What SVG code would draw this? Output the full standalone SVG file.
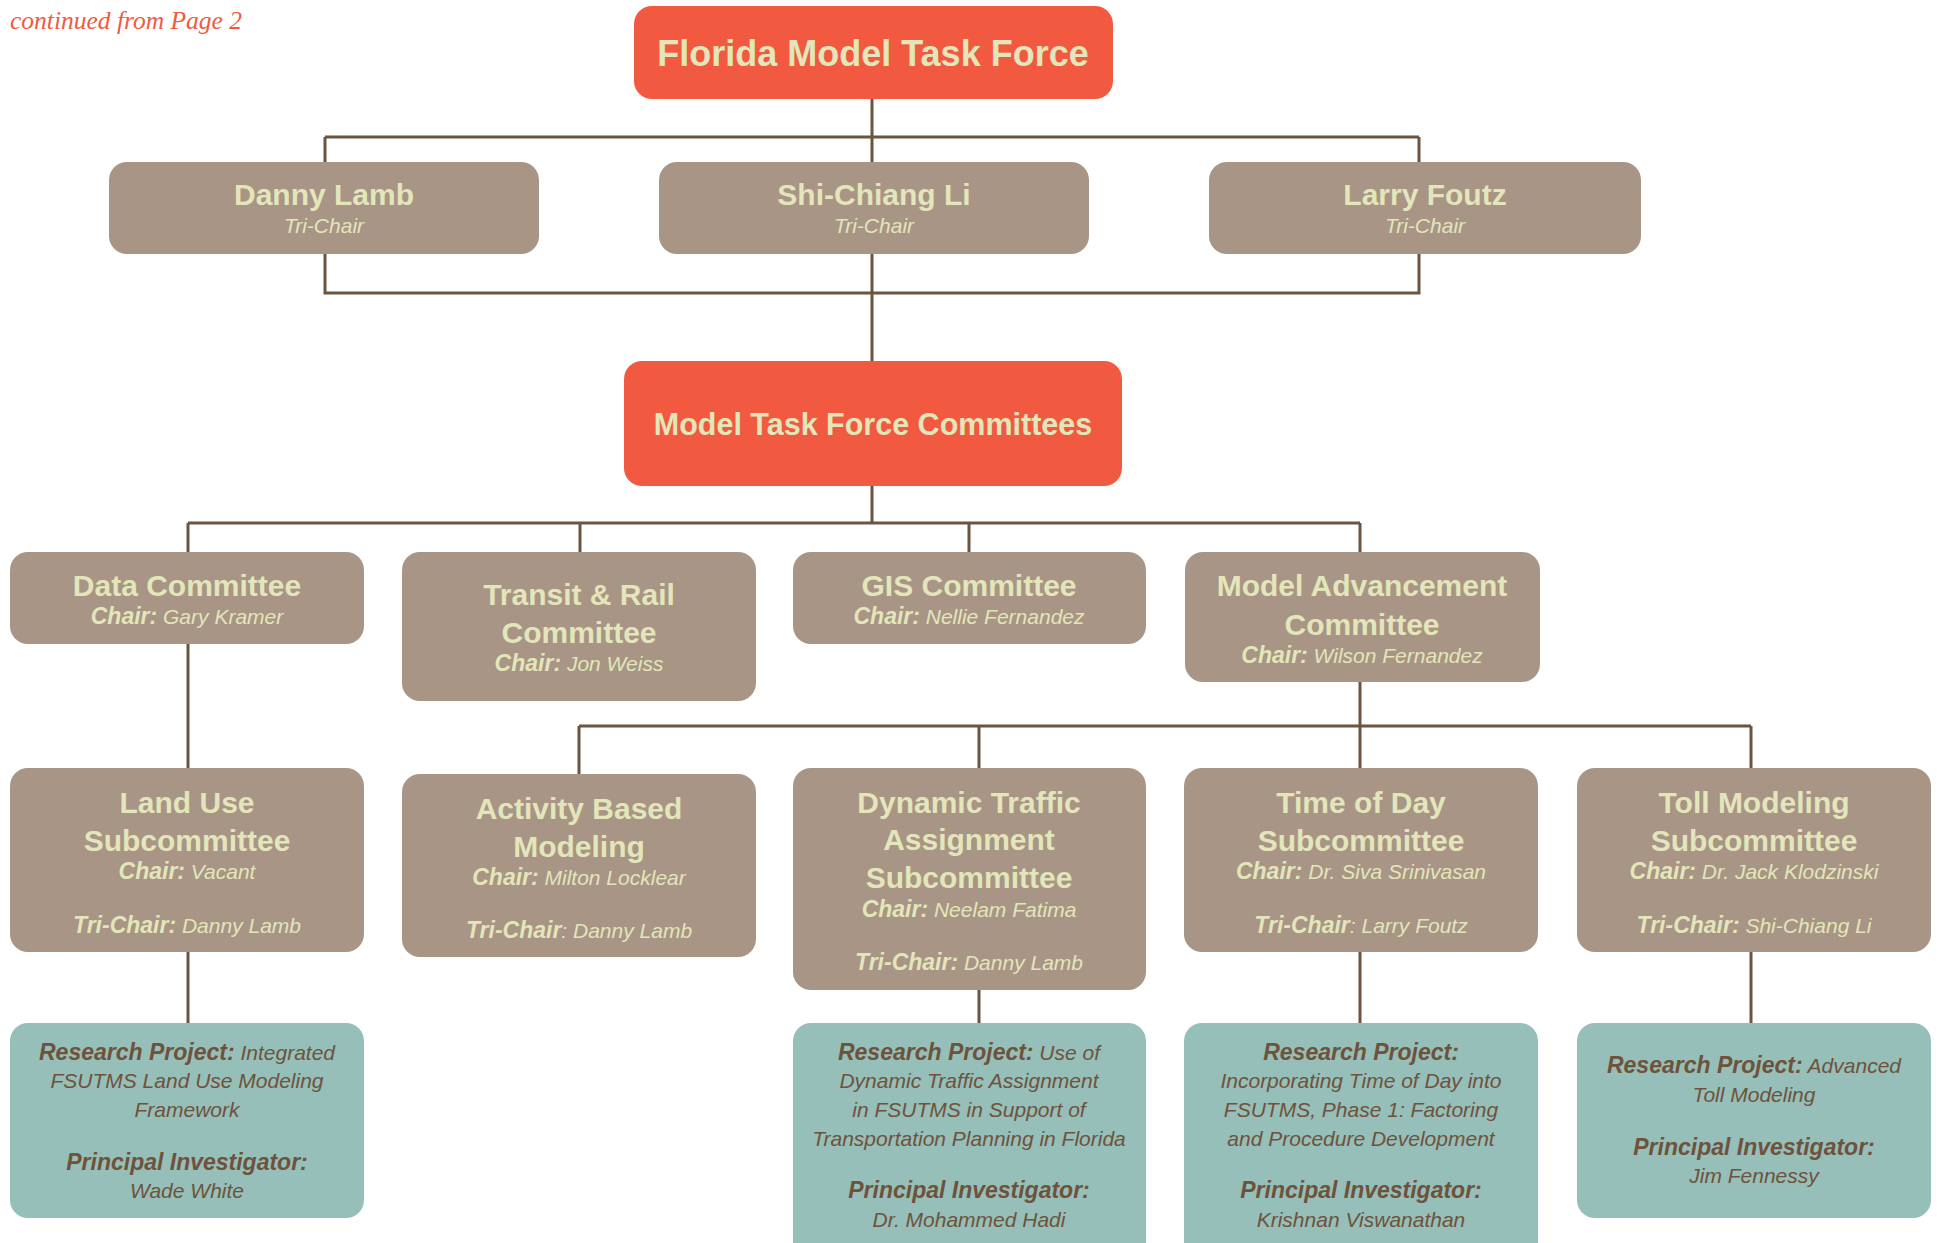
<svg xmlns="http://www.w3.org/2000/svg" width="1939" height="1243" viewBox="0 0 1939 1243">
<style>
.t{font-family:"Liberation Sans",Arial,sans-serif;text-anchor:middle}
.h{font-weight:bold;font-size:30px;fill:#E2E6BA}
.s{font-style:italic;font-size:21px;fill:#E2E6BA}
.r{font-style:italic;font-size:21px;fill:#6F523C}
.b{font-weight:bold;font-size:23px}
.red{fill:#F15A40}
.tan{fill:#A89585}
.teal{fill:#95BFB8}
.ln{stroke:#6B5541;stroke-width:3;fill:none}
</style>
<rect width="1939" height="1243" fill="#ffffff"/>
<text x="10" y="29" style="font-family:'Liberation Serif','Times New Roman',serif;font-style:italic;font-size:25.5px;fill:#F15A40">continued from Page 2</text>
<g id="connectors" class="ln">
<path d="M872 99V361"/>
<path d="M325 137H1419M325 137V162M1419 137V162"/>
<path d="M325 254V293H1419V254"/>
<path d="M872 486V523M188 523H1360M188 523V552M580 523V552M969 523V552M1360 523V552"/>
<path d="M188 644V768M1360 682V768"/>
<path d="M579 726H1751M579 726V774M979 726V768M1751 726V768"/>
<path d="M188 952V1023M979 990V1023M1360 952V1023M1751 952V1023"/>
</g>
<g id="fmtf"><rect class="red" x="634" y="6" width="479" height="93" rx="18"/><text class="t h" x="873" y="66" style="font-size:36px">Florida Model Task Force</text></g>
<g id="danny"><rect class="tan" x="109" y="162" width="430" height="92" rx="18"/><text class="t h" x="324" y="205">Danny Lamb</text><text class="t s" x="324" y="233">Tri-Chair</text></g>
<g id="shi"><rect class="tan" x="659" y="162" width="430" height="92" rx="18"/><text class="t h" x="874" y="205">Shi-Chiang Li</text><text class="t s" x="874" y="233">Tri-Chair</text></g>
<g id="larry"><rect class="tan" x="1209" y="162" width="432" height="92" rx="18"/><text class="t h" x="1425" y="205">Larry Foutz</text><text class="t s" x="1425" y="233">Tri-Chair</text></g>
<g id="mtfc"><rect class="red" x="624" y="361" width="498" height="125" rx="18"/><text class="t h" x="873" y="435" style="font-size:30.5px">Model Task Force Committees</text></g>
<g id="data"><rect class="tan" x="10" y="552" width="354" height="92" rx="18"/><text class="t h" x="187" y="596">Data Committee</text><text class="t s" x="187" y="624"><tspan class="b">Chair:</tspan> Gary Kramer</text></g>
<g id="transit"><rect class="tan" x="402" y="552" width="354" height="149" rx="18"/><text class="t h" x="579" y="605">Transit &amp; Rail</text><text class="t h" x="579" y="643">Committee</text><text class="t s" x="579" y="671"><tspan class="b">Chair:</tspan> Jon Weiss</text></g>
<g id="gis"><rect class="tan" x="793" y="552" width="353" height="92" rx="18"/><text class="t h" x="969" y="596">GIS Committee</text><text class="t s" x="969" y="624"><tspan class="b">Chair:</tspan> Nellie Fernandez</text></g>
<g id="mac"><rect class="tan" x="1185" y="552" width="355" height="130" rx="18"/><text class="t h" x="1362" y="596">Model Advancement</text><text class="t h" x="1362" y="635">Committee</text><text class="t s" x="1362" y="663"><tspan class="b">Chair:</tspan> Wilson Fernandez</text></g>
<g id="landuse"><rect class="tan" x="10" y="768" width="354" height="184" rx="18"/><text class="t h" x="187" y="813">Land Use</text><text class="t h" x="187" y="851">Subcommittee</text><text class="t s" x="187" y="879"><tspan class="b">Chair:</tspan> Vacant</text><text class="t s" x="187" y="933"><tspan class="b">Tri-Chair:</tspan> Danny Lamb</text></g>
<g id="abm"><rect class="tan" x="402" y="774" width="354" height="183" rx="18"/><text class="t h" x="579" y="819">Activity Based</text><text class="t h" x="579" y="857">Modeling</text><text class="t s" x="579" y="885"><tspan class="b">Chair:</tspan> Milton Locklear</text><text class="t s" x="579" y="938"><tspan class="b">Tri-Chair</tspan>: Danny Lamb</text></g>
<g id="dta"><rect class="tan" x="793" y="768" width="353" height="222" rx="18"/><text class="t h" x="969" y="813">Dynamic Traffic</text><text class="t h" x="969" y="850">Assignment</text><text class="t h" x="969" y="888">Subcommittee</text><text class="t s" x="969" y="917"><tspan class="b">Chair:</tspan> Neelam Fatima</text><text class="t s" x="969" y="970"><tspan class="b">Tri-Chair:</tspan> Danny Lamb</text></g>
<g id="tod"><rect class="tan" x="1184" y="768" width="354" height="184" rx="18"/><text class="t h" x="1361" y="813">Time of Day</text><text class="t h" x="1361" y="851">Subcommittee</text><text class="t s" x="1361" y="879"><tspan class="b">Chair:</tspan> Dr. Siva Srinivasan</text><text class="t s" x="1361" y="933"><tspan class="b">Tri-Chair</tspan>: Larry Foutz</text></g>
<g id="toll"><rect class="tan" x="1577" y="768" width="354" height="184" rx="18"/><text class="t h" x="1754" y="813">Toll Modeling</text><text class="t h" x="1754" y="851">Subcommittee</text><text class="t s" x="1754" y="879"><tspan class="b">Chair:</tspan> Dr. Jack Klodzinski</text><text class="t s" x="1754" y="933"><tspan class="b">Tri-Chair:</tspan> Shi-Chiang Li</text></g>
<g id="rp-landuse"><rect class="teal" x="10" y="1023" width="354" height="195" rx="18"/><text class="t r" x="187" y="1060"><tspan class="b">Research Project:</tspan> Integrated</text><text class="t r" x="187" y="1088">FSUTMS Land Use Modeling</text><text class="t r" x="187" y="1117">Framework</text><text class="t r b" x="187" y="1170">Principal Investigator:</text><text class="t r" x="187" y="1198">Wade White</text></g>
<g id="rp-dta"><rect class="teal" x="793" y="1023" width="353" height="250" rx="18"/><text class="t r" x="969" y="1060"><tspan class="b">Research Project:</tspan> Use of</text><text class="t r" x="969" y="1088">Dynamic Traffic Assignment</text><text class="t r" x="969" y="1117">in FSUTMS in Support of</text><text class="t r" x="969" y="1146">Transportation Planning in Florida</text><text class="t r b" x="969" y="1198">Principal Investigator:</text><text class="t r" x="969" y="1227">Dr. Mohammed Hadi</text></g>
<g id="rp-tod"><rect class="teal" x="1184" y="1023" width="354" height="250" rx="18"/><text class="t r b" x="1361" y="1060">Research Project:</text><text class="t r" x="1361" y="1088">Incorporating Time of Day into</text><text class="t r" x="1361" y="1117">FSUTMS, Phase 1: Factoring</text><text class="t r" x="1361" y="1146">and Procedure Development</text><text class="t r b" x="1361" y="1198">Principal Investigator:</text><text class="t r" x="1361" y="1227">Krishnan Viswanathan</text></g>
<g id="rp-toll"><rect class="teal" x="1577" y="1023" width="354" height="195" rx="18"/><text class="t r" x="1754" y="1073"><tspan class="b">Research Project:</tspan> Advanced</text><text class="t r" x="1754" y="1102">Toll Modeling</text><text class="t r b" x="1754" y="1155">Principal Investigator:</text><text class="t r" x="1754" y="1183">Jim Fennessy</text></g>
</svg>
